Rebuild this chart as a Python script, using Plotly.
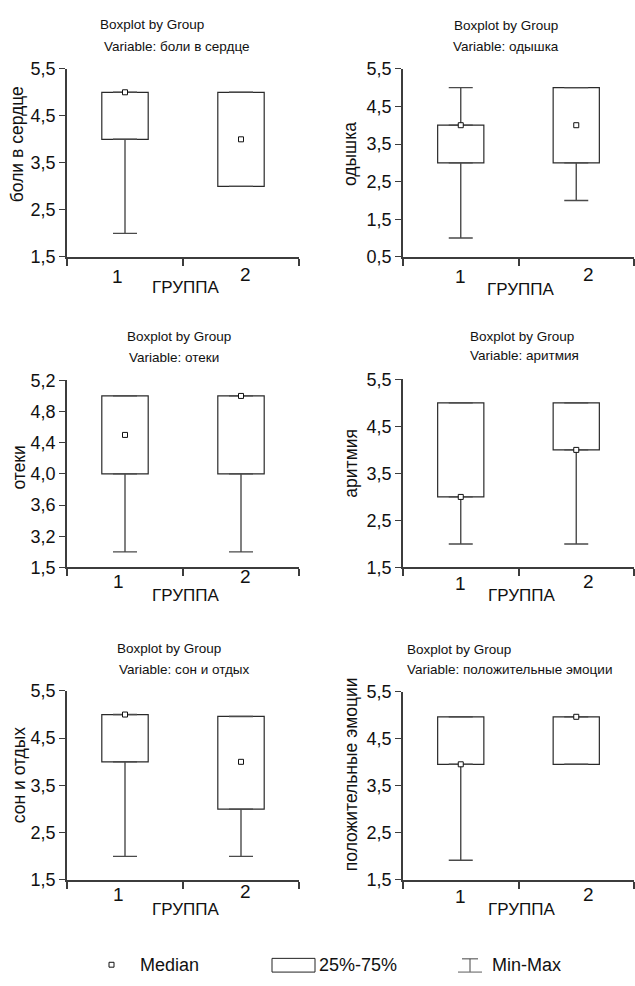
import plotly.graph_objects as go

W, H = 635, 986
FONT = "Liberation Sans, Arial, sans-serif"

# ---------------- data ----------------
groups = [1, 2]
group_labels = ["1", "2"]
x_title = "ГРУППА"
title_line1 = "Boxplot by Group"

variables = ["боли в сердце", "одышка", "отеки", "аритмия", "сон и отдых", "положительные эмоции"]

# per variable: [group1, group2]
boli_min = [2.0, 3.0]
boli_q1 = [4.0, 3.0]
boli_med = [5.0, 4.0]
boli_q3 = [5.0, 5.0]
boli_max = [5.0, 5.0]

odysh_min = [1.0, 2.0]
odysh_q1 = [3.0, 3.0]
odysh_med = [4.0, 4.0]
odysh_q3 = [4.0, 5.0]
odysh_max = [5.0, 5.0]

oteki_min = [3.0, 3.0]
oteki_q1 = [4.0, 4.0]
oteki_med = [4.5, 5.0]
oteki_q3 = [5.0, 5.0]
oteki_max = [5.0, 5.0]

aritm_min = [2.0, 2.0]
aritm_q1 = [3.0, 4.0]
aritm_med = [3.0, 4.0]
aritm_q3 = [5.0, 5.0]
aritm_max = [5.0, 5.0]

son_min = [2.0, 2.0]
son_q1 = [4.0, 3.0]
son_med = [5.0, 4.0]
son_q3 = [5.0, 4.96]
son_max = [5.0, 4.96]

emo_min = [1.92, 3.96]
emo_q1 = [3.96, 3.96]
emo_med = [3.96, 4.97]
emo_q3 = [4.97, 4.97]
emo_max = [4.97, 4.97]

# tick labels
yticks_std = [1.5, 2.5, 3.5, 4.5, 5.5]
yticktext_std = ["1,5", "2,5", "3,5", "4,5", "5,5"]
yticks_odysh = [0.5, 1.5, 2.5, 3.5, 4.5, 5.5]
yticktext_odysh = ["0,5", "1,5", "2,5", "3,5", "4,5", "5,5"]
yticks_oteki = [2.8, 3.2, 3.6, 4.0, 4.4, 4.8, 5.2]
yticktext_oteki = ["1,5", "3,2", "3,6", "4,0", "4,4", "4,8", "5,2"]

legend_labels = ["Median", "25%-75%", "Min-Max"]

panels = [
    dict(var=variables[0], mn=boli_min, q1=boli_q1, md=boli_med, q3=boli_q3, mx=boli_max,
         tv=yticks_std, tt=yticktext_std),
    dict(var=variables[1], mn=odysh_min, q1=odysh_q1, md=odysh_med, q3=odysh_q3, mx=odysh_max,
         tv=yticks_odysh, tt=yticktext_odysh),
    dict(var=variables[2], mn=oteki_min, q1=oteki_q1, md=oteki_med, q3=oteki_q3, mx=oteki_max,
         tv=yticks_oteki, tt=yticktext_oteki),
    dict(var=variables[3], mn=aritm_min, q1=aritm_q1, md=aritm_med, q3=aritm_q3, mx=aritm_max,
         tv=yticks_std, tt=yticktext_std),
    dict(var=variables[4], mn=son_min, q1=son_q1, md=son_med, q3=son_q3, mx=son_max,
         tv=yticks_std, tt=yticktext_std),
    dict(var=variables[5], mn=emo_min, q1=emo_q1, md=emo_med, q3=emo_q3, mx=emo_max,
         tv=yticks_std, tt=yticktext_std),
]

# ---------------- layout geometry (pixels) ----------------
plot_px = [  # x0, x1, ytop, ybottom
    (67, 299, 60, 252), (403, 634, 60, 252),
    (67, 299, 378, 569), (403, 634, 377, 569),
    (67, 299, 695, 888), (403, 634, 696, 888),
]
title_px = [  # (left x, y) line1, (left x, y) line2
    ((98, 15), (102, 37)), ((452, 16), (451, 37)),
    ((125, 333), (127, 355)), ((468, 333), (468, 353)),
    ((115, 652), (117, 673)), ((405, 653), (405, 673)),
]
ytitle_px = [(17, 137), (350, 147), (19, 467), (351, 462), (19, 781), (351, 780)]
xlab_px = [  # "1", "2", title
    ((117, 272), (245, 270), (185, 283)),
    ((460, 272), (588, 270), (520, 285)),
    ((118, 583), (245, 578), (185, 598)),
    ((460, 585), (588, 583), (521, 598)),
    ((118, 903), (245, 900), (185, 918)),
    ((460, 905), (588, 903), (521, 918)),
]

def px(x):
    return x / W

def py(y):
    return 1 - y / H

AX = "#3c3c3c"
BOX = "#2a2a2a"
WH = "#4a4a4a"

fig = go.Figure()
annotations = []
shapes = []

for i, p in enumerate(panels):
    n = "" if i == 0 else str(i + 1)
    xa, ya = "x" + n, "y" + n
    heights = [b - a for a, b in zip(p["q1"], p["q3"])]
    fig.add_trace(go.Bar(
        x=groups, y=heights, base=p["q1"], width=0.4,
        marker=dict(color="white", line=dict(color=BOX, width=1.2)),
        xaxis=xa, yaxis=ya, showlegend=False, hoverinfo="skip"))
    # lower whisker
    fig.add_trace(go.Scatter(
        x=groups, y=p["q1"], mode="markers", marker=dict(size=1, opacity=0),
        error_y=dict(type="data", symmetric=False, array=[0, 0],
                     arrayminus=[a - b for a, b in zip(p["q1"], p["mn"])],
                     width=12, thickness=1.4, color=WH),
        xaxis=xa, yaxis=ya, showlegend=False, hoverinfo="skip"))
    # upper whisker
    fig.add_trace(go.Scatter(
        x=groups, y=p["q3"], mode="markers", marker=dict(size=1, opacity=0),
        error_y=dict(type="data", symmetric=False,
                     array=[b - a for a, b in zip(p["q3"], p["mx"])], arrayminus=[0, 0],
                     width=12, thickness=1.4, color=WH),
        xaxis=xa, yaxis=ya, showlegend=False, hoverinfo="skip"))
    # medians
    fig.add_trace(go.Scatter(
        x=groups, y=p["md"], mode="markers",
        marker=dict(symbol="square", size=5, color="white", line=dict(color="#111", width=1)),
        xaxis=xa, yaxis=ya, showlegend=False, hoverinfo="skip"))

    x0, x1, yt, yb = plot_px[i]
    tv = p["tv"]
    fig.layout["xaxis" + n] = dict(
        domain=[px(x0), px(x1)], anchor=ya, range=[0.5, 2.5],
        tickvals=[0.5, 1.5, 2.5], ticktext=["", "", ""],
        ticks="outside", ticklen=7, tickwidth=1.5, tickcolor=AX,
        showline=True, linecolor=AX, linewidth=1.5,
        showgrid=False, zeroline=False, fixedrange=True)
    fig.layout["yaxis" + n] = dict(
        domain=[py(yb), py(yt)], anchor=xa, range=[min(tv), max(tv)],
        tickvals=tv, ticktext=p["tt"],
        ticks="outside", ticklen=6, tickwidth=1, tickcolor=AX,
        tickfont=dict(family=FONT, size=18, color="#111"),
        showline=True, linecolor=AX, linewidth=1.5,
        showgrid=False, zeroline=False, fixedrange=True)

    (l1x, l1y), (l2x, l2y) = title_px[i]
    annotations.append(dict(text=title_line1, x=px(l1x), y=py(l1y), xref="paper", yref="paper",
                            xanchor="left", yanchor="middle", showarrow=False,
                            font=dict(family=FONT, size=13.5, color="#111")))
    annotations.append(dict(text="Variable: " + p["var"], x=px(l2x), y=py(l2y), xref="paper",
                            yref="paper", xanchor="left", yanchor="middle", showarrow=False,
                            font=dict(family=FONT, size=13.5, color="#111")))
    tx, ty = ytitle_px[i]
    annotations.append(dict(text=p["var"], x=px(tx), y=py(ty), xref="paper", yref="paper",
                            xanchor="center", yanchor="middle", textangle=-90, showarrow=False,
                            font=dict(family=FONT, size=17.5, color="#111")))
    for (lx, ly), t, fs in zip(xlab_px[i], group_labels + [x_title], [19, 19, 17]):
        annotations.append(dict(text=t, x=px(lx), y=py(ly), xref="paper", yref="paper",
                                xanchor="center", yanchor="middle", showarrow=False,
                                font=dict(family=FONT, size=fs, color="#111")))

# ---------------- legend (drawn) ----------------
LY = 975
shapes.append(dict(type="rect", xref="paper", yref="paper", x0=px(109), x1=px(114),
                   y0=py(977), y1=py(972), line=dict(color="#111", width=1), fillcolor="white"))
shapes.append(dict(type="rect", xref="paper", yref="paper", x0=px(272), x1=px(315),
                   y0=py(982), y1=py(968), line=dict(color="#222", width=1), fillcolor="white"))
shapes.append(dict(type="line", xref="paper", yref="paper", x0=px(462), x1=px(478),
                   y0=py(968.5), y1=py(968.5), line=dict(color="#444", width=1)))
shapes.append(dict(type="line", xref="paper", yref="paper", x0=px(470), x1=px(470),
                   y0=py(968.5), y1=py(982), line=dict(color="#444", width=1)))
shapes.append(dict(type="line", xref="paper", yref="paper", x0=px(458), x1=px(482),
                   y0=py(982), y1=py(982), line=dict(color="#777", width=1.2)))
for t, lx in zip(legend_labels, [138, 317, 490]):
    annotations.append(dict(text=t, x=px(lx), y=py(LY), xref="paper", yref="paper",
                            xanchor="left", yanchor="middle", showarrow=False,
                            font=dict(family=FONT, size=18, color="#111")))

fig.update_layout(
    width=W, height=H, margin=dict(l=0, r=0, t=0, b=0),
    paper_bgcolor="white", plot_bgcolor="white",
    annotations=annotations, shapes=shapes, showlegend=False,
    barmode="overlay",
)

fig.write_html("out.html", config={"displayModeBar": False},
               post_script="document.body.style.margin='0px';document.body.style.overflow='hidden';")
